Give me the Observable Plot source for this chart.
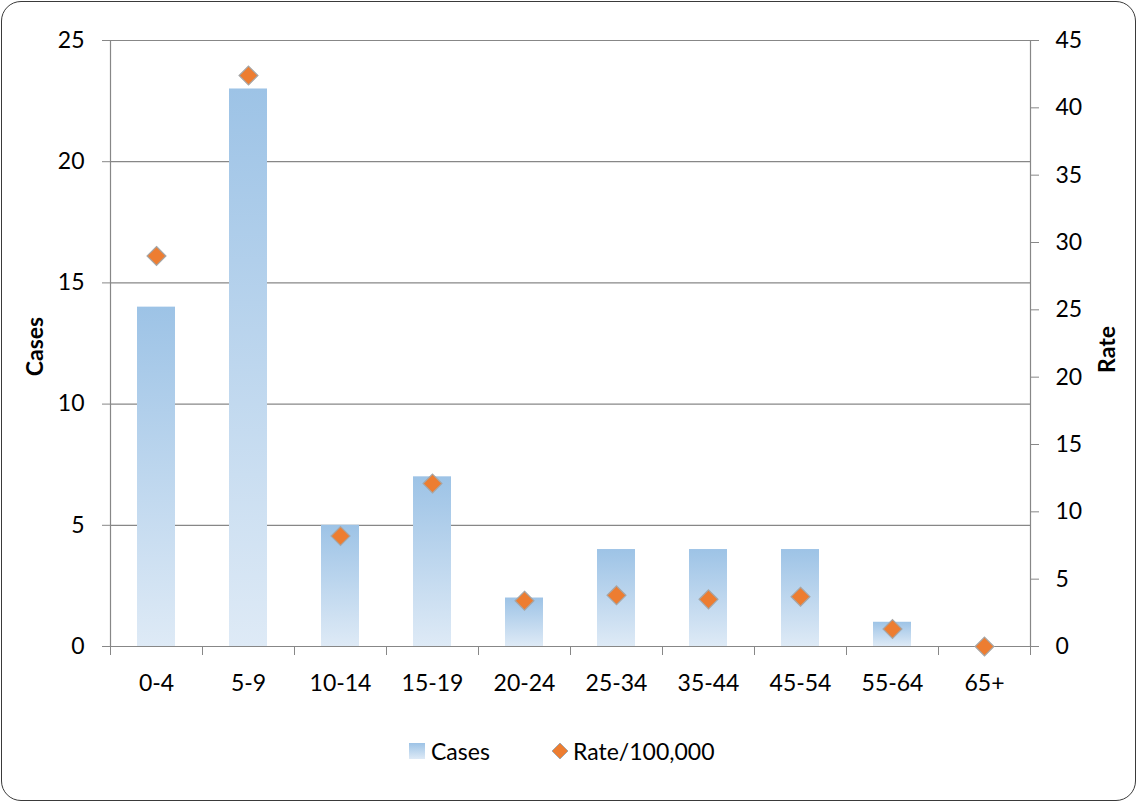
<!DOCTYPE html>
<html>
<head>
<meta charset="utf-8">
<script src="https://cdn.jsdelivr.net/npm/d3@7"></script>
<script src="https://cdn.jsdelivr.net/npm/@observablehq/plot@0.6"></script>
<style>
  html, body { margin: 0; padding: 0; background: #fff; }
  #wrap { position: relative; width: 1138px; height: 804px; font-family: Lato, "Open Sans", sans-serif; }
  #frame { position: absolute; left: 1px; top: 1px; width: 1133px; height: 798px; border: 1.5px solid #3a3a3a; border-radius: 20px; box-sizing: content-box; pointer-events: none; }
  #chart { position: absolute; left: 0; top: 0; }
  #legend { position: absolute; top: 736px; left: 0; width: 1138px; height: 30px; font-size: 23px; color: #000; }
  .li { position: absolute; top: 0; display: flex; align-items: center; height: 30px; }
</style>
</head>
<body>
<div id="wrap">
  <div id="chart"></div>
  <div id="legend">
    <div class="li" style="left:409px">
      <svg width="16" height="16" style="margin-right:6px"><defs><linearGradient id="lg1" x1="0" y1="0" x2="0" y2="1"><stop offset="0" stop-color="#9dc3e6"/><stop offset="1" stop-color="#deeaf6"/></linearGradient></defs><rect x="0" y="0" width="16" height="16" fill="url(#lg1)"/></svg>
      <span>Cases</span>
    </div>
    <div class="li" style="left:551px">
      <svg width="18" height="18" style="margin-right:4px"><path d="M9,1 L17,9 L9,17 L1,9 Z" fill="#ed7d31" stroke="#a6a6a6" stroke-width="1"/></svg>
      <span>Rate/100,000</span>
    </div>
  </div>
  <div id="frame"></div>
</div>
<script>
const ageGroups = ["0-4", "5-9", "10-14", "15-19", "20-24", "25-34", "35-44", "45-54", "55-64", "65+"];
const cases = [14, 23, 5, 7, 2, 4, 4, 4, 1, 0];
const rates = [29.0, 42.4, 8.2, 12.1, 3.4, 3.8, 3.5, 3.7, 1.3, 0];
const casesTicks = [0, 5, 10, 15, 20, 25];
const rateTicks = [0, 5, 10, 15, 20, 25, 30, 35, 40, 45];
const casesMax = 25;
const rateMax = 45;

const data = ageGroups.map((g, i) => ({ group: g, i, cases: cases[i], rate: rates[i] }));
const toCases = r => r * casesMax / rateMax;

const gridColor = "#878787";
const font = "Lato, 'Open Sans', sans-serif";

const defs = () => {
  const d = d3.create("svg:defs");
  const g = d.append("linearGradient").attr("id", "barGrad")
    .attr("x1", 0).attr("y1", 0).attr("x2", 0).attr("y2", 1);
  g.append("stop").attr("offset", 0).attr("stop-color", "#9dc3e6");
  g.append("stop").attr("offset", 1).attr("stop-color", "#deeaf6");
  return d.node();
};

const chart = Plot.plot({
  width: 1138,
  height: 700,
  marginLeft: 110,
  marginRight: 108,
  marginTop: 40,
  marginBottom: 54,
  style: { fontFamily: font, color: "#000", background: "transparent", overflow: "visible" },
  x: { type: "linear", domain: [0, ageGroups.length], axis: null },
  y: { domain: [0, casesMax], axis: null },
  marks: [
    defs,
    Plot.ruleY(casesTicks, { stroke: gridColor, strokeWidth: 1.2 }),
    Plot.ruleX([0, ageGroups.length], { stroke: gridColor, strokeWidth: 1.2 }),
    Plot.rectY(data, {
      x1: d => d.i, x2: d => d.i + 1, y1: 0, y2: "cases",
      insetLeft: 27, insetRight: 27, fill: "url(#barGrad)"
    }),
    Plot.dot(data, {
      x: d => d.i + 0.5, y: d => toCases(d.rate),
      symbol: "diamond2", r: 8.5, fill: "#ed7d31", stroke: "#a6a6a6", strokeWidth: 1.2
    }),
    Plot.axisY({
      anchor: "left", ticks: casesTicks, tickSize: 8, tickPadding: 18,
      stroke: gridColor, fill: "#000", fontSize: 23, label: null
    }),
    Plot.axisY({
      anchor: "right", ticks: rateTicks.map(toCases), tickSize: 8, tickPadding: 17,
      tickFormat: d => String(Math.round(d * rateMax / casesMax)),
      stroke: gridColor, fill: "#000", fontSize: 23, label: null
    }),
    Plot.axisX({
      ticks: d3.range(0, ageGroups.length + 1), tickSize: 9, tickFormat: () => "",
      stroke: gridColor, label: null
    }),
    Plot.text(data, {
      x: d => d.i + 0.5, y: 0, text: "group", dy: 37, fontSize: 23, fill: "#000"
    }),
    Plot.text(["Cases"], {
      frameAnchor: "left", textAnchor: "middle", dx: -75, dy: 3, rotate: -90,
      fontSize: 23, fontWeight: "bold", fill: "#000"
    }),
    Plot.text(["Rate"], {
      frameAnchor: "right", textAnchor: "middle", dx: 77, dy: 6, rotate: -90,
      fontSize: 23, fontWeight: "bold", fill: "#000"
    })
  ]
});
document.getElementById("chart").appendChild(chart);
</script>
</body>
</html>
